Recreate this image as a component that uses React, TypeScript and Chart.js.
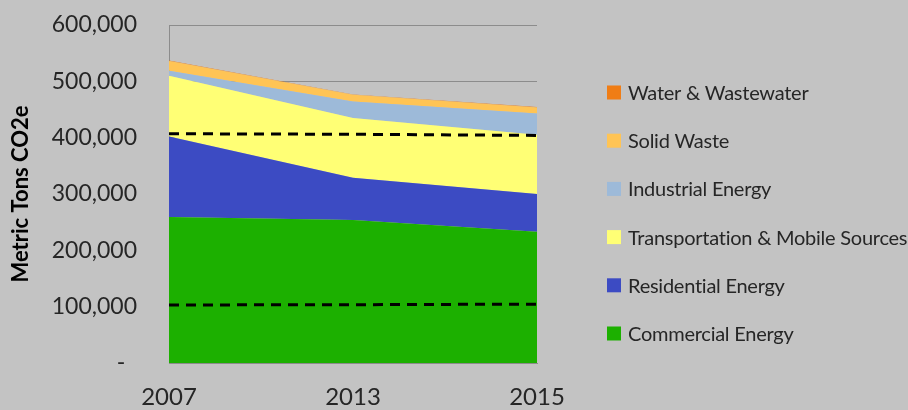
import React, { useEffect, useRef } from "react";
import { Chart, registerables } from "chart.js";
Chart.register(...registerables);

const years = ["2007", "2013", "2015"];
const commercial = [259000, 254000, 233000];
const residential = [143000, 75000, 67000];
const transportation = [108000, 106000, 105000];
const industrial = [9000, 29000, 38000];
const solidWaste = [17000, 12000, 10500];
const water = [800, 800, 800];
const dashedUpper = [407000, 406000, 404000];
const dashedLower = [103000, 103500, 104500];
const yTicks = [0, 100000, 200000, 300000, 400000, 500000, 600000];

const legendPlugin = {
  id: "customLegend",
  afterDraw(chart: any) {
    const ctx = chart.ctx;
    const items = chart.data.datasets.filter((d: any) => d.fill !== false).slice().reverse();
    ctx.save();
    ctx.font = "20px Lato";
    ctx.textBaseline = "middle";
    ctx.textAlign = "left";
    try { (ctx as any).letterSpacing = "-0.25px"; } catch (e) {}
    items.forEach((d: any, k: number) => {
      const y = 92.5 + k * 48.2;
      ctx.fillStyle = d.backgroundColor;
      ctx.fillRect(607, y - 7, 14, 14);
      ctx.fillStyle = "#262626";
      ctx.fillText(d.label, 628, y + 1);
    });
    ctx.restore();
  },
};

export default function App() {
  const ref = useRef<HTMLCanvasElement | null>(null);
  useEffect(() => {
    document.body.style.margin = "0";
    const area = (label: string, data: number[], color: string, fill: any) => ({
      label,
      data,
      backgroundColor: color,
      borderColor: color,
      borderWidth: 0,
      pointRadius: 0,
      tension: 0,
      fill,
      stack: "main",
    });
    const dashed = (data: number[], stack: string) => ({
      label: "",
      data,
      borderColor: "#000000",
      borderWidth: 3,
      borderDash: [10, 7],
      pointRadius: 0,
      fill: false,
      stack,
      order: -1,
    });
    const chart = new Chart(ref.current!, {
      type: "line",
      data: {
        labels: years,
        datasets: [
          area("Commercial Energy", commercial, "#1cb000", "origin"),
          area("Residential Energy", residential, "#3c4bc3", "-1"),
          area("Transportation & Mobile Sources", transportation, "#ffff75", "-1"),
          area("Industrial Energy", industrial, "#9dbad9", "-1"),
          area("Solid Waste", solidWaste, "#ffc455", "-1"),
          area("Water & Wastewater", water, "#f07d15", "-1"),
          dashed(dashedUpper, "d1"),
          dashed(dashedLower, "d2"),
        ] as any,
      },
      options: {
        animation: false,
        responsive: false,
        devicePixelRatio: 1,
        layout: { padding: { top: 25, right: 371, bottom: 0, left: 0 } },
        plugins: { legend: { display: false }, tooltip: { enabled: false } },
        scales: {
          x: {
            offset: false,
            grid: { display: false },
            border: { display: true, color: "#8c8c8c" },
            ticks: { color: "#262626", font: { family: "Lato", size: 24 }, padding: 12, maxRotation: 0 },
            afterFit: (s: any) => { s.height = 47; },
          },
          y: {
            stacked: true,
            min: 0,
            max: 600000,
            afterBuildTicks: (s: any) => { s.ticks = yTicks.map((v) => ({ value: v })); },
            grid: { color: "#8c8c8c", drawTicks: true, tickLength: 32, tickColor: "rgba(0,0,0,0)" },
            border: { display: true, color: "#8c8c8c" },
            ticks: {
              color: "#262626",
              font: { family: "Lato", size: 23 },
              padding: 0,
              callback: (v: any) => (Number(v) === 0 ? "-  " : Number(v).toLocaleString("en-US")),
            },
            title: {
              display: true,
              text: "Metric Tons CO2e",
              color: "#000000",
              font: { family: "Lato", size: 22, weight: "bold" },
              padding: { top: 8, bottom: 0 },
            },
            afterFit: (s: any) => { s.width = 169; },
          },
        },
      },
      plugins: [legendPlugin],
    });
    return () => chart.destroy();
  }, []);
  return (
    <div style={{ width: 908, height: 410, background: "#c3c3c3" }}>
      <canvas ref={ref} width={908} height={410} style={{ display: "block" }} />
    </div>
  );
}
